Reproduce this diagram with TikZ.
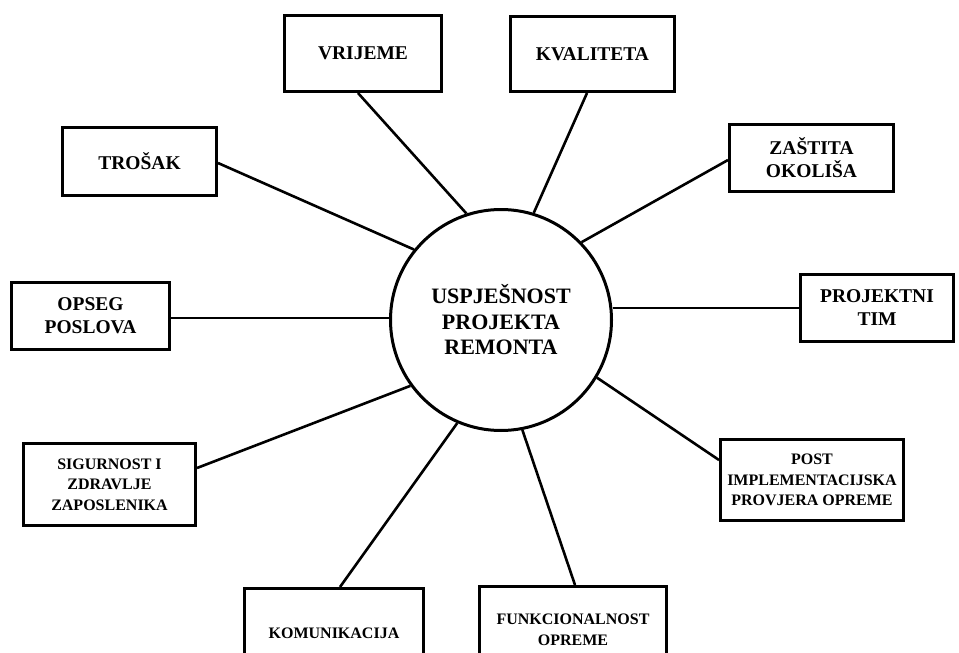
\documentclass[tikz,border=0pt]{standalone}
\usepackage{fontspec}
\setmainfont{Liberation Serif}
\begin{document}
\begin{tikzpicture}[x=1pt,y=-1pt,
  box/.style={draw,line width=3pt,rectangle,inner sep=0pt,align=center,
    font=\bfseries\fontsize{19.5}{23}\selectfont},
  sbox/.style={box,font=\bfseries\fontsize{16}{20.5}\selectfont},
  hub/.style={draw,circle,line width=3pt,inner sep=0pt,minimum size=221pt,align=center,
    font=\bfseries\fontsize{22}{25.5}\selectfont},
  link/.style={line width=2.6pt}]
\clip (0,0) rectangle (959,653);
\fill[white] (0,0) rectangle (959,653);
\node[hub] (c) at (501,320) {USPJEŠNOST\\PROJEKTA\\REMONTA};
\node[box,minimum width=157pt,minimum height=76pt] (vr) at (363,53.5) {VRIJEME};
\node[box,minimum width=164pt,minimum height=75pt] (kv) at (592.5,54) {KVALITETA};
\node[box,minimum width=154pt,minimum height=68pt] (tr) at (139.5,161.5) {TROŠAK};
\node[box,minimum width=164pt,minimum height=67pt] (za) at (811.5,158) {ZAŠTITA\\OKOLIŠA};
\node[box,minimum width=158pt,minimum height=67pt] (op) at (90.5,316) {OPSEG\\POSLOVA};
\node[box,minimum width=153pt,minimum height=67pt] (pt) at (877,308) {PROJEKTNI\\TIM};
\node[sbox,minimum width=172pt,minimum height=82pt] (si) at (109.5,484.5) {SIGURNOST I\\ZDRAVLJE\\ZAPOSLENIKA};
\node[sbox,minimum width=183pt,minimum height=81pt] (po) at (812,480) {POST\\IMPLEMENTACIJSKA\\PROVJERA OPREME};
\node[sbox,minimum width=179pt,minimum height=89pt] (ko) at (334,633) {KOMUNIKACIJA};
\node[sbox,minimum width=187pt,minimum height=87pt] (fu) at (573,630) {FUNKCIONALNOST\\OPREME};
\draw[link] ([xshift=-5pt]vr.south) -- (c.108.8);
\draw[link] ([xshift=-5.5pt]kv.south) -- (c.73);
\draw[link] ([yshift=-1.5pt]tr.east) -- (c.141.5);
\draw[link] ([yshift=-2pt]za.west) -- (c.44.6);
\draw[link] ([yshift=-2pt]op.east) -- ([yshift=-2pt]op.east -| c.west);
\draw[link] (pt.west) -- (pt.west -| c.east);
\draw[link] ([yshift=16.5pt]si.east) -- (c.216.4);
\draw[link] ([yshift=20pt]po.west) -- (c.329);
\draw[link] ([xshift=6pt]ko.north) -- (c.247.3);
\draw[link] ([xshift=2pt]fu.north) -- (c.281.3);
\end{tikzpicture}
\end{document}
